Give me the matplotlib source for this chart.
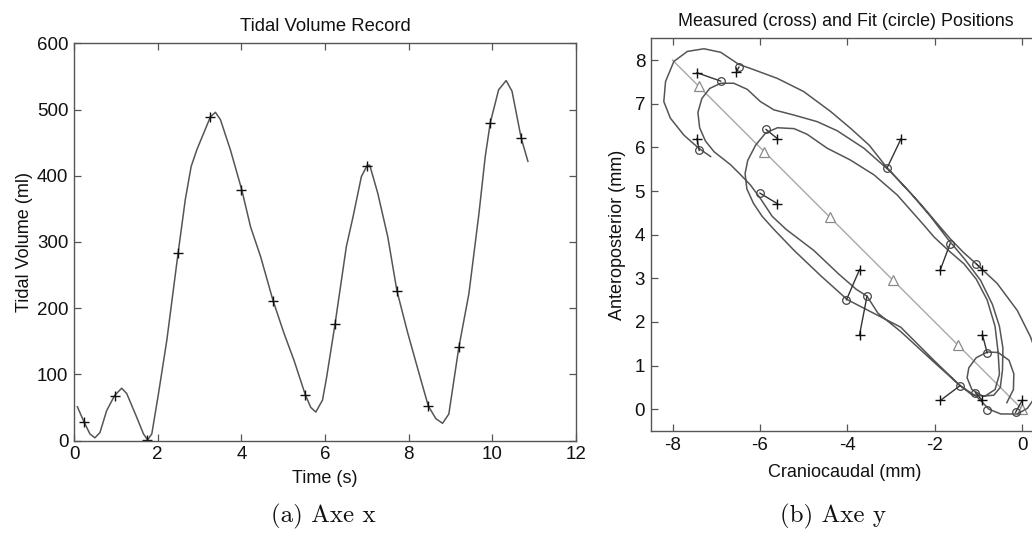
import matplotlib
matplotlib.use("Agg")
import matplotlib.pyplot as plt

plt.rcParams['font.family'] = ['Liberation Sans', 'DejaVu Sans']
plt.rcParams['axes.unicode_minus'] = False

# ---------------- Left panel data: tidal volume ----------------
curve_t = [0.08, 0.24, 0.38, 0.5, 0.62, 0.78, 0.97, 1.14, 1.26, 1.5, 1.66, 1.76, 1.86,
           2.02, 2.22, 2.49, 2.66, 2.8, 2.94, 3.26, 3.38, 3.5, 3.74, 4.01, 4.22, 4.46,
           4.76, 5.02, 5.26, 5.53, 5.66, 5.78, 5.94, 6.04, 6.24, 6.51, 6.67, 6.87, 7.01,
           7.07, 7.26, 7.5, 7.72, 7.98, 8.25, 8.47, 8.65, 8.81, 8.96, 9.2, 9.44, 9.68,
           9.83, 9.95, 10.15, 10.33, 10.47, 10.69, 10.85]
curve_v = [51, 28, 10, 4, 12, 45, 68, 79, 71, 35, 10, 1, 10,
           71, 152, 284, 364, 414, 440, 489, 496, 485, 439, 379, 323, 278,
           211, 162, 121, 69, 50, 43, 61, 96, 176, 293, 338, 399, 416,
           416, 374, 308, 226, 162, 101, 52, 33, 26, 40, 141, 222, 343,
           429, 480, 530, 544, 528, 457, 422]
meas_t = [0.24, 0.97, 1.74, 2.49, 3.26, 4.0, 4.76, 5.53, 6.24, 7.0, 7.72, 8.47, 9.2, 9.95, 10.69]
meas_v = [28, 68, 1, 284, 489, 379, 211, 69, 176, 415, 226, 52, 141, 480, 457]
left_xticks = [0, 2, 4, 6, 8, 10, 12]
left_yticks = [0, 100, 200, 300, 400, 500, 600]

# ---------------- Right panel data: positions ----------------
diag_x = [-8.0, 0.0]
diag_y = [8.0, 0.0]
tri_x = [-7.4, -5.9, -4.4, -2.95, -1.47, 0.0]
tri_y = [7.4, 5.9, 4.4, 2.95, 1.47, 0.0]

cross_x = [-7.44, -6.54, -7.44, -5.6, -5.6, -2.77, -1.87, -0.91, -3.72, -3.72, -0.91, -1.87, -0.91, 0.0]
cross_y = [7.71, 7.73, 6.2, 6.2, 4.71, 6.2, 3.2, 3.2, 3.2, 1.71, 1.71, 0.2, 0.2, 0.2]
fit_x = [-6.9, -6.48, -7.39, -5.86, -6.0, -3.09, -1.65, -1.05, -4.02, -3.55, -0.8, -1.42, -1.07, -0.15]
fit_y = [7.52, 7.84, 5.93, 6.41, 4.95, 5.53, 3.79, 3.33, 2.51, 2.59, 1.29, 0.54, 0.38, -0.07]
extra_fit_x = [-0.8]
extra_fit_y = [-0.01]

traj_x = [-0.35, -0.2, -0.19, -0.3, -0.55, -0.8, -1.05, -1.22, -1.26, -1.15, -0.9, -0.65, -0.5,
          -0.45, -0.44, -0.52, -0.68, -0.95, -1.3, -1.71, -2.1, -2.55, -3.01, -3.62, -4.23, -4.69,
          -5.22, -5.68, -5.99, -6.29, -6.6, -6.9, -7.15, -7.33, -7.42, -7.38, -7.25, -7.05, -6.67,
          -6.44, -6.22, -5.99, -5.72, -5.4, -4.77, -4.2, -3.8, -3.55, -3.3, -2.78, -2.02, -1.42,
          -1.15, -0.85, -0.62, -0.52, -0.55, -0.62, -0.8, -1.05, -1.33, -1.7, -2.02, -2.25, -2.86,
          -3.39, -3.93, -4.46, -4.92, -5.22, -5.6, -5.87, -6.1, -6.28, -6.34, -6.3, -6.15, -5.95,
          -5.68, -5.22, -4.6, -4.0, -3.4, -2.78, -2.02, -1.42,
          -1.03, -0.76, -0.49, -0.11, 0.12, 0.3, 0.4, 0.37, 0.19, -0.11, -0.57, -1.05, -1.35,
          -1.64, -1.94, -2.33, -2.78, -3.09, -3.5, -3.93, -4.38, -5.0, -5.6, -6.22, -6.48, -6.9,
          -7.28, -7.66, -7.97, -8.16, -8.2, -8.05, -7.74, -7.4, -7.13]
traj_y = [0.15, 0.45, 0.81, 1.12, 1.3, 1.31, 1.18, 0.95, 0.72, 0.45, 0.3, 0.32, 0.5,
          0.9, 1.4, 1.9, 2.4, 2.95, 3.42, 3.91, 4.42, 4.95, 5.44, 5.98, 6.38, 6.59,
          6.74, 6.86, 7.05, 7.33, 7.47, 7.47, 7.35, 7.12, 6.8, 6.45, 6.15, 5.9, 5.6,
          5.37, 5.14, 4.83, 4.42, 4.12, 3.64, 3.1, 2.75, 2.59, 2.2, 1.78, 1.08, 0.54,
          0.33, 0.3, 0.45, 0.8, 1.3, 1.9, 2.5, 2.98, 3.33, 3.65, 3.95, 4.22, 4.91,
          5.37, 5.71, 5.98, 6.3, 6.43, 6.45, 6.33, 6.05, 5.7, 5.4, 5.05, 4.72, 4.42,
          4.12, 3.64, 3.05, 2.51, 2.2, 1.88, 1.12, 0.54,
          0.28, 0.0, -0.11, -0.11, 0.02, 0.28, 0.7, 1.15, 1.66, 2.26, 2.88, 3.33, 3.6,
          3.9, 4.25, 4.71, 5.2, 5.53, 6.05, 6.44, 6.82, 7.28, 7.58, 7.81, 7.9, 8.18,
          8.26, 8.2, 7.97, 7.51, 7.05, 6.67, 6.28, 5.98, 5.79]
right_xticks = [-8, -6, -4, -2, 0]
right_yticks = [0, 1, 2, 3, 4, 5, 6, 7, 8]

# ---------------- Figure ----------------
W, H = 1032, 534
fig = plt.figure(figsize=(W / 100, H / 100), dpi=100)
fig.patch.set_facecolor('white')

spine_col = '#555555'
line_col = '#555555'
text_col = '#111111'
tick_fs = 13.5
lab_fs = 13


def style(ax):
    for s in ax.spines.values():
        s.set_color(spine_col)
        s.set_linewidth(1.0)
    ax.tick_params(direction='in', length=5, width=0.9, color=spine_col,
                   top=True, right=True, labelsize=tick_fs, pad=4, labelcolor=text_col)


# Left axes: px 74..576 horizontally, 43.5..440.5 vertically
axL = fig.add_axes([74 / W, (H - 440.5) / H, 502 / W, 397 / H])
axL.plot(curve_t, curve_v, color=line_col, lw=1.1)
axL.plot(meas_t, meas_v, linestyle='none', marker='+', color=text_col, ms=7, mew=1.0)
axL.set_xlim(0, 12)
axL.set_ylim(0, 600)
axL.set_xticks(left_xticks)
axL.set_yticks(left_yticks)
style(axL)
axL.set_title('Tidal Volume Record', fontsize=13.3, color=text_col, pad=9)
axL.set_xlabel('Time (s)', fontsize=lab_fs, color=text_col, labelpad=5)
axL.set_ylabel('Tidal Volume (ml)', fontsize=lab_fs, color=text_col, labelpad=3)

# Right axes: x=-8.5 at px 650.7, 43.7 px per unit; y -0.5..8.5 over px 431..38.3
xr0, xr1 = -8.5, 0.5
axR = fig.add_axes([650.7 / W, (H - 431) / H, (xr1 - xr0) * 43.7 / W, 392.7 / H])
axR.plot(diag_x, diag_y, color='#a8a8a8', lw=1.0)
axR.plot(tri_x, tri_y, linestyle='none', marker='^', ms=6.5, mfc='white',
         mec='#8a8a8a', mew=0.9)
axR.plot(traj_x, traj_y, color=line_col, lw=1.1, solid_joinstyle='round')
for cx, cy, fx, fy in zip(cross_x, cross_y, fit_x, fit_y):
    axR.plot([cx, fx], [cy, fy], color='#333333', lw=1.0)
axR.plot(fit_x + extra_fit_x, fit_y + extra_fit_y, linestyle='none', marker='o', ms=5.5,
         mfc='none', mec='#444444', mew=0.9)
axR.plot(cross_x, cross_y, linestyle='none', marker='+', ms=7, color=text_col, mew=1.0)
axR.set_xlim(xr0, xr1)
axR.set_ylim(-0.5, 8.5)
axR.set_xticks(right_xticks)
axR.set_yticks(right_yticks)
style(axR)
axR.set_title('Measured (cross) and Fit (circle) Positions', fontsize=12.9,
              color=text_col, pad=9, x=(846 - 650.7) / ((xr1 - xr0) * 43.7))
axR.set_xlabel('Craniocaudal (mm)', fontsize=lab_fs, color=text_col, labelpad=4)
axR.xaxis.set_label_coords((845 - 650.7) / ((xr1 - xr0) * 43.7), -0.085)
axR.set_ylabel('Anteroposterior (mm)', fontsize=lab_fs, color=text_col, labelpad=6)

# Captions
fig.text(323 / W, 1 - 516 / H, '(a) Axe x', fontfamily='cmr10', fontsize=18,
         ha='center', va='center', color=text_col)
fig.text(833 / W, 1 - 516 / H, '(b) Axe y', fontfamily='cmr10', fontsize=18,
         ha='center', va='center', color=text_col)

fig.savefig('out.png', dpi=100, facecolor='white')
